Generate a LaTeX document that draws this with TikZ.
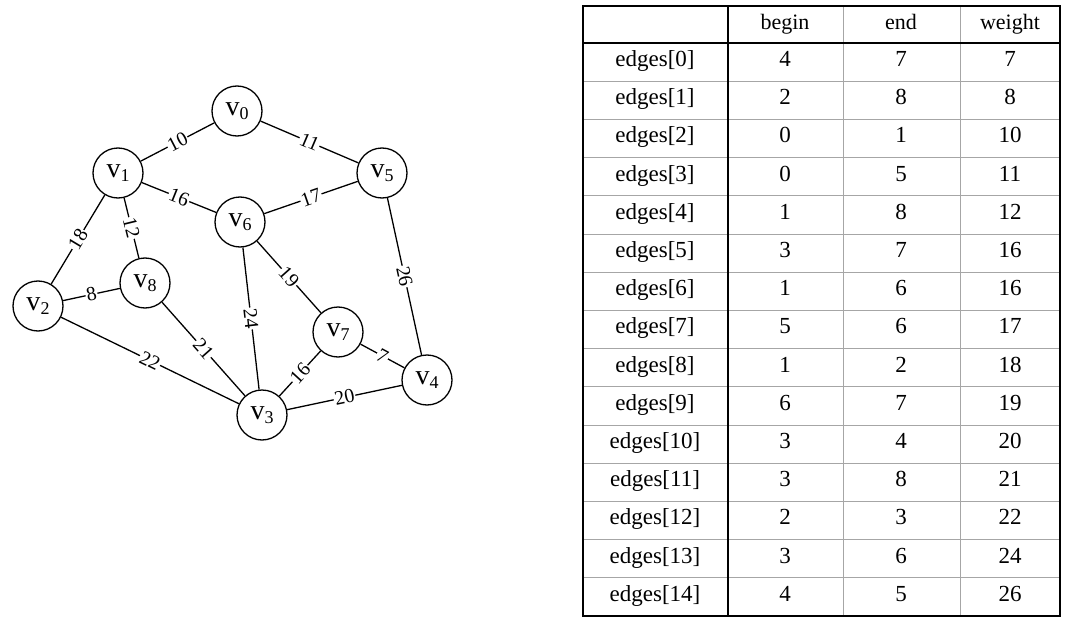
\documentclass[tikz,border=0pt]{standalone}
\usepackage{fontspec}
\setmainfont{Liberation Serif}
\begin{document}
\begin{tikzpicture}[x=1pt,y=-1pt,
  vtx/.style={draw,circle,line width=1.3pt,minimum size=50pt,inner sep=0pt,font=\fontsize{28}{30}\selectfont},
  edge/.style={line width=1.3pt},
  lbl/.style={sloped,fill=white,inner sep=1pt,font=\fontsize{20}{20}\selectfont},
  cell/.style={font=\fontsize{23}{26}\selectfont,inner sep=0pt,text height=0.68em,text depth=0.22em},
  hcell/.style={font=\fontsize{22}{24}\selectfont,inner sep=0pt,text height=0.72em,text depth=0.22em},
  thick border/.style={line width=1.8pt},
  thin rule/.style={line width=0.7pt,black!35}
]
\useasboundingbox (0,0) rectangle (1069,626);
\newcommand{\vlab}[1]{v\raisebox{-4pt}{\fontsize{18}{18}\selectfont #1}}
% vertices
\node[vtx] (v0) at (237,111) {\vlab{0}};
\node[vtx] (v1) at (118,173) {\vlab{1}};
\node[vtx] (v2) at (38,306) {\vlab{2}};
\node[vtx] (v3) at (262,415) {\vlab{3}};
\node[vtx] (v4) at (427,380) {\vlab{4}};
\node[vtx] (v5) at (382,173) {\vlab{5}};
\node[vtx] (v6) at (240,222) {\vlab{6}};
\node[vtx] (v7) at (338,332) {\vlab{7}};
\node[vtx] (v8) at (145,283) {\vlab{8}};
% edges
\draw[edge] (v0) -- node[lbl] {10} (v1);
\draw[edge] (v0) -- node[lbl] {11} (v5);
\draw[edge] (v1) -- node[lbl] {16} (v6);
\draw[edge] (v6) -- node[lbl] {17} (v5);
\draw[edge] (v1) -- node[lbl] {18} (v2);
\draw[edge] (v1) -- node[lbl] {12} (v8);
\draw[edge] (v2) -- node[lbl] {8} (v8);
\draw[edge] (v2) -- node[lbl] {22} (v3);
\draw[edge] (v8) -- node[lbl] {21} (v3);
\draw[edge] (v6) -- node[lbl] {24} (v3);
\draw[edge] (v6) -- node[lbl] {19} (v7);
\draw[edge] (v7) -- node[lbl] {16} (v3);
\draw[edge] (v7) -- node[lbl] {7} (v4);
\draw[edge] (v3) -- node[lbl] {20} (v4);
\draw[edge] (v5) -- node[lbl] {26} (v4);
% table grid
\foreach \i in {1,...,14} {
  \draw[thin rule] (583,{43+38.2*\i}) -- (1060,{43+38.2*\i});
}
\draw[thin rule] (843,6) -- (843,616);
\draw[thin rule] (960,6) -- (960,616);
\draw[thick border] (583,6) rectangle (1060,616);
\draw[thick border] (728,6) -- (728,616);
\draw[thick border] (583,43) -- (1060,43);
% header
\node[hcell] (hb) at (785,27) {begin};
\node[hcell] (he) at (901,27) {end};
\node[hcell] (hw) at (1010,27) {weight};
% rows
\foreach \b/\e/\w [count=\r from 0] in {4/7/7,2/8/8,0/1/10,0/5/11,1/8/12,3/7/16,1/6/16,5/6/17,1/2/18,6/7/19,3/4/20,3/8/21,2/3/22,3/6/24,4/5/26} {
  \node[cell] (n\r) at (655,{45+38.2*(\r+0.5)}) {edges[\r]};
  \node[cell] (b\r) at (785,{45+38.2*(\r+0.5)}) {\b};
  \node[cell] (e\r) at (901,{45+38.2*(\r+0.5)}) {\e};
  \node[cell] (w\r) at (1010,{45+38.2*(\r+0.5)}) {\w};
}
\end{tikzpicture}
\end{document}
